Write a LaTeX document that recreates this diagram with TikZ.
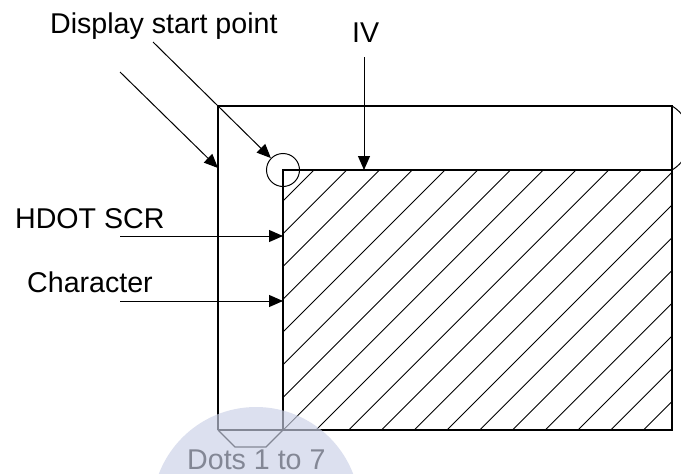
\documentclass[tikz,border=0pt]{standalone}
\usepackage{fontspec}
\setmainfont{Liberation Sans}
\usetikzlibrary{arrows.meta}
\definecolor{wmark}{RGB}{202,208,230}

\begin{document}
\begin{tikzpicture}[
  x=1pt, y=-1pt,
  lbl/.style={font=\fontsize{28.6}{32}\selectfont, inner sep=0pt, anchor=base west},
  arr/.style={-{Triangle[length=14pt,width=12pt]}, line width=1pt},
  frame/.style={line width=1.3pt},
  hatch/.style={line width=0.9pt}
]
\useasboundingbox (0,0) rectangle (681,474);

% screen frame and display area
\coordinate (tl) at (218,106);
\coordinate (tr) at (672,106);
\coordinate (bl) at (218,430);
\coordinate (br) at (672,430);
\coordinate (org) at (283,170);
\coordinate (ivr) at (672,170);
\coordinate (orgb) at (283,430);

\begin{scope}
  \clip (org) rectangle (br);
  \foreach \k in {0,...,18}
    \draw[hatch] ({484+32.75*\k-430},430) -- ++(400,-400);
\end{scope}

\draw[frame] (bl) -- (tl) -- (tr) -- (br) -- (bl);
\draw[frame] (orgb) -- (org) -- (ivr);
\draw[frame] (bl) -- ++(17,17) -- ++(31,0) -- (orgb);

\node[draw, circle, minimum size=33pt, inner sep=0pt, line width=1pt] (dsp) at (org) {};
\begin{scope}
  \clip (672,0) rectangle (681,474);
  \draw[line width=1pt] (653,138) circle[radius=37.2pt];
\end{scope}

% labels
\node[lbl] (dsptxt) at (50,33) {Display start point};
\node[lbl] (ivtxt) at (352,42) {IV};
\node[lbl] (hdot) at (15,228) {HDOT SCR};
\node[lbl] (chr) at (27,292) {Character};
\node[lbl] (dots) at (187,469) {Dots 1 to 7};

% arrows
\coordinate (frmS) at (120,72);
\coordinate (frmT) at (218,168);
\coordinate (dspS) at (153,42);
\coordinate (ivS) at (364,57);
\coordinate (ivT) at (364,170);
\coordinate (hdotS) at (120,236);
\coordinate (hdotT) at (283,236);
\coordinate (chrS) at (120,301);
\coordinate (chrT) at (283,301);

\draw[arr] (frmS) -- (frmT);
\draw[arr] (dspS) -- (dsp);
\draw[arr] (ivS) -- (ivT);
\draw[arr] (hdotS) -- (hdotT);
\draw[arr] (chrS) -- (chrT);

% watermark
\fill[wmark, fill opacity=0.65] (256,511) circle[radius=104pt];
\end{tikzpicture}
\end{document}
